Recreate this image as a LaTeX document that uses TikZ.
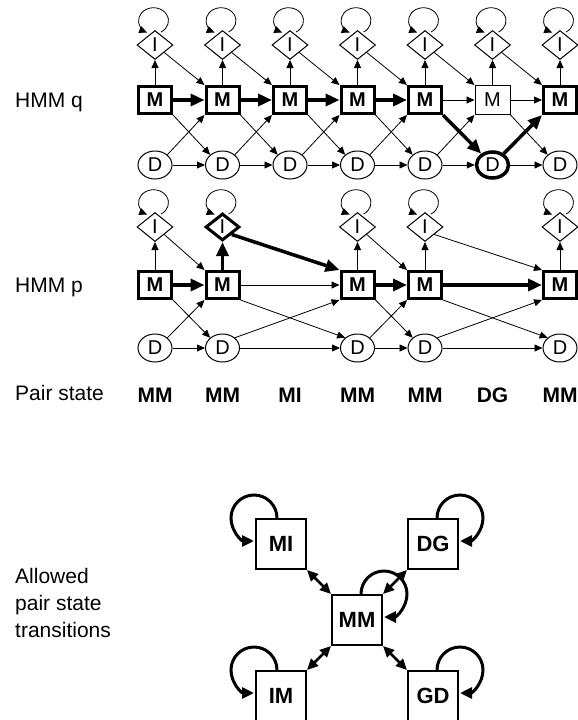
\documentclass[tikz,border=0pt]{standalone}
\usepackage{fontspec}
\setmainfont{Liberation Sans}
\usetikzlibrary{arrows.meta,shapes.geometric}
\tikzset{
  lbl/.style={font=\fontsize{21}{27}\selectfont, inner sep=0pt},
  pairlbl/.style={font=\fontsize{21}{27}\selectfont\bfseries, inner sep=0pt, anchor=base},
  mbox/.style={draw, rectangle, line width=3pt, minimum width=33pt, minimum height=27pt, inner sep=0pt, font=\fontsize{20}{22}\selectfont\bfseries},
  mthin/.style={draw, rectangle, line width=1pt, minimum width=35pt, minimum height=29pt, inner sep=0pt, font=\fontsize{20}{22}\selectfont},
  insn/.style={draw, diamond, line width=1pt, minimum width=36pt, minimum height=29pt, inner sep=0pt, font=\fontsize{20}{22}\selectfont},
  insbold/.style={insn, line width=3pt, minimum width=34pt, minimum height=27pt},
  deln/.style={draw, ellipse, line width=1pt, minimum width=34pt, minimum height=28pt, inner sep=0pt, font=\fontsize{20}{22}\selectfont},
  delbold/.style={deln, line width=3.5pt, minimum width=32pt, minimum height=26pt},
  arthin/.style={line width=0.8pt, -{Triangle[length=8pt,width=7pt]}},
  arthick/.style={line width=3.5pt, -{Triangle[length=14pt,width=12pt]}},
  pbox/.style={draw, rectangle, line width=2pt, minimum width=50pt, minimum height=50pt, inner sep=0pt, font=\fontsize{22}{24}\selectfont\bfseries},
  pself/.style={line width=3pt, -{Triangle[length=12pt,width=11pt]}},
  pboth/.style={line width=2.5pt, {Triangle[length=11pt,width=10pt]}-{Triangle[length=11pt,width=10pt]}},
}
\begin{document}
\begin{tikzpicture}[x=1pt,y=1pt]
\useasboundingbox (0,0) rectangle (578,-720);
% ---------- labels ----------
\node[lbl, anchor=base west] (hq) at (15,-107) {HMM q};
\node[lbl, anchor=base west] (hp) at (15,-292) {HMM p};
\node[lbl, anchor=base west] (pst) at (15,-400) {Pair state};
\node[lbl, anchor=north west, align=left] (apst) at (15,-568) {Allowed\\pair state\\transitions};
% ---------- HMM q ----------
\foreach \i in {1,...,7} {
  \pgfmathsetmacro\xx{155+67.5*(\i-1)}
  \node[insn] (qI\i) at (\xx,-45) {I};
}
\foreach \i in {1,2,3,4,5,7} {
  \pgfmathsetmacro\xx{155+67.5*(\i-1)}
  \node[mbox] (qM\i) at (\xx,-100) {M};
}
\node[mthin] (qM6) at (492.5,-100) {M};
\foreach \i in {1,2,3,4,5,7} {
  \pgfmathsetmacro\xx{155+67.5*(\i-1)}
  \node[deln] (qD\i) at (\xx,-165) {D};
}
\node[delbold] (qD6) at (492.5,-165) {D};
\foreach \i in {1,...,7} {
  \draw[arthin] (qM\i) -- (qI\i);
  \draw[arthin] ([shift={(6,-2)}]qI\i.north) arc[start angle=-60,end angle=245,x radius=15,y radius=13];
}
\foreach \i [evaluate=\i as \j using int(\i+1)] in {1,...,6} {
  \draw[arthin] (qI\i.south east) -- (qM\j.north west);
  \draw[arthin] (qD\i) -- (qD\j);
  \ifnum\i=5\else \draw[arthin] (qM\i.south east) -- (qD\j.north west); \fi
  \ifnum\i=6\else \draw[arthin] (qD\i.north east) -- (qM\j.south west); \fi
  \ifnum\i<5 \draw[arthick] (qM\i) -- (qM\j); \else \draw[arthin] (qM\i) -- (qM\j); \fi
}
\draw[arthick] (qM5.south east) -- (qD6);
\draw[arthick] (qD6) -- (qM7.south west);
% ---------- HMM p ----------
\foreach \i/\xx in {1/155,4/357.5,5/425,7/560} {
  \node[insn] (pI\i) at (\xx,-227) {I};
}
\node[insbold] (pI2) at (222.5,-227) {I};
\foreach \i/\xx in {1/155,2/222.5,4/357.5,5/425,7/560} {
  \node[mbox] (pM\i) at (\xx,-285) {M};
  \node[deln] (pD\i) at (\xx,-348) {D};
  \draw[arthin] ([shift={(6,-2)}]pI\i.north) arc[start angle=-60,end angle=245,x radius=15,y radius=13];
}
\foreach \i in {1,4,5,7} { \draw[arthin] (pM\i) -- (pI\i); }
\draw[arthick] (pM2) -- (pI2);
\foreach \i/\j in {1/2,2/4,4/5,5/7} {
  \draw[arthin] (pM\i.south east) -- (pD\j.north west);
  \draw[arthin] (pD\i.north east) -- (pM\j.south west);
  \draw[arthin] (pD\i) -- (pD\j);
}
\foreach \i/\j in {1/2,4/5,5/7} {
  \draw[arthin] (pI\i.south east) -- (pM\j.north west);
  \draw[arthick] (pM\i) -- (pM\j);
}
\draw[arthick] (pI2.south east) -- (pM4.north west);
\draw[arthin] (pM2) -- (pM4);
% ---------- pair states ----------
\foreach \xx/\t [count=\k] in {155/MM,222.5/MM,290/MI,357.5/MM,425/MM,492.5/DG,560/MM} {
  \node[pairlbl] (ps\k) at (\xx,-402) {\t};
}
% ---------- allowed transitions ----------
\node[pbox] (MI) at (281,-544) {MI};
\node[pbox] (DG) at (433,-544) {DG};
\node[pbox] (MM) at (357,-620) {MM};
\node[pbox] (IM) at (281,-696) {IM};
\node[pbox] (GD) at (433,-696) {GD};
\draw[pself] ([xshift=22pt]MI.north west) arc[start angle=0,end angle=270,radius=23];
\draw[pself] ([xshift=22pt]IM.north west) arc[start angle=0,end angle=270,radius=23];
\draw[pself] ([xshift=-22pt]DG.north east) arc[start angle=180,end angle=-90,radius=23];
\draw[pself] ([xshift=-22pt]GD.north east) arc[start angle=180,end angle=-90,radius=23];
\draw[pself] ([xshift=-22pt]MM.north east) arc[start angle=180,end angle=-90,radius=23];
\draw[pboth] (MI.south east) -- (MM.north west);
\draw[pboth] (DG.south west) -- (MM.north east);
\draw[pboth] (IM.north east) -- (MM.south west);
\draw[pboth] (GD.north west) -- (MM.south east);
\end{tikzpicture}
\end{document}
